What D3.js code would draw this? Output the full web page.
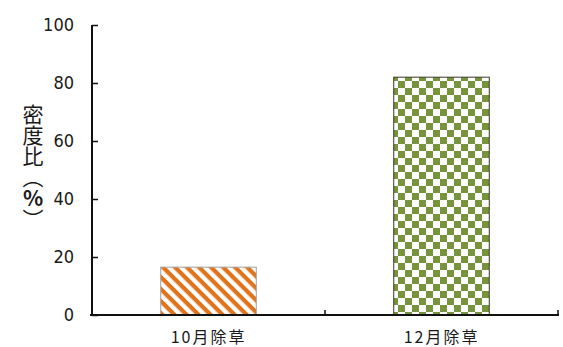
<!DOCTYPE html>
<html>
<head>
<meta charset="utf-8">
<script src="https://cdn.jsdelivr.net/npm/d3@7"></script>
<style>
  body { margin: 0; background: #fff; }
  text { fill: #1a1a1a; }
</style>
</head>
<body>
<div id="chart"></div>
<script>
// data
var categories = ["10月除草", "12月除草"];
var values = [16.5, 82];
var yTicks = [0, 20, 40, 60, 80, 100];
var yTitle = ["密度比（", "%", "）"];

var margin = {top: 25, right: 5, bottom: 32, left: 92},
    width = 563 - margin.left - margin.right,
    height = 347 - margin.top - margin.bottom;

var svg = d3.select("#chart").append("svg")
    .attr("width", 563).attr("height", 347);

// fill patterns
var defs = svg.append("defs");
var stripe = defs.append("pattern")
    .attr("id", "stripe")
    .attr("patternUnits", "userSpaceOnUse")
    .attr("width", 8.5).attr("height", 8.5)
    .attr("patternTransform", "rotate(45)");
stripe.append("rect").attr("width", 8.5).attr("height", 8.5).attr("fill", "#fff");
stripe.append("rect").attr("width", 8.5).attr("height", 4.2).attr("fill", "#e0741c");

var checker = defs.append("pattern")
    .attr("id", "checker")
    .attr("patternUnits", "userSpaceOnUse")
    .attr("x", 397).attr("y", 77)
    .attr("width", 14).attr("height", 14);
checker.append("rect").attr("width", 14).attr("height", 14).attr("fill", "#fff");
checker.append("rect").attr("width", 7).attr("height", 7).attr("fill", "#77933c");
checker.append("rect").attr("x", 7).attr("y", 7).attr("width", 7).attr("height", 7).attr("fill", "#77933c");

var g = svg.append("g")
    .attr("transform", "translate(" + margin.left + "," + margin.top + ")");

var x = d3.scaleBand().domain(categories).range([0, width]).paddingInner(0.59).paddingOuter(0.295);
var y = d3.scaleLinear().domain([0, 100]).range([height, 0]);

// bars
g.selectAll(".bar")
  .data(values)
  .enter().append("rect")
    .attr("class", "bar")
    .attr("x", function(d, i) { return x(categories[i]); })
    .attr("y", function(d) { return y(d); })
    .attr("width", x.bandwidth())
    .attr("height", function(d) { return height - y(d); })
    .attr("fill", function(d, i) { return i == 0 ? "url(#stripe)" : "url(#checker)"; })
    .attr("stroke", function(d, i) { return i == 0 ? "#a0a0a0" : "#3a3a2a"; })
    .attr("stroke-width", 1);

// y axis
var yAxis = g.append("g")
    .call(d3.axisLeft(y).tickValues(yTicks).tickSize(-6).tickPadding(18));
yAxis.select(".domain").attr("stroke", "#111").attr("stroke-width", 2)
    .attr("d", "M0," + height + "V0");
yAxis.selectAll(".tick line").attr("stroke", "#111").attr("stroke-width", 1.5);
yAxis.selectAll("text")
    .style("font-family", "'Liberation Sans Narrow', 'DejaVu Sans Condensed', sans-serif")
    .style("font-size", "18px").attr("fill", "#1a1a1a");

// x axis
var xAxis = g.append("g")
    .attr("transform", "translate(0," + height + ")")
    .call(d3.axisBottom(x).tickSize(0).tickPadding(17));
xAxis.select(".domain").attr("stroke", "#111").attr("stroke-width", 2)
    .attr("d", "M-2,0H" + (width + 1));
xAxis.selectAll("text")
    .style("font-family", "'Noto Sans CJK JP', sans-serif")
    .style("font-size", "16px")
    .style("letter-spacing", "2px")
    .attr("fill", "#1a1a1a");
// separators between categories
var seps = [x.step(), width];
g.selectAll(".sep")
  .data(seps)
  .enter().append("line")
    .attr("x1", function(d) { return d; }).attr("x2", function(d) { return d; })
    .attr("y1", height).attr("y2", height - 5)
    .attr("stroke", "#111").attr("stroke-width", 1.5);

// y title, vertical writing, % kept upright
var title = svg.append("text")
    .attr("x", 33).attr("y", 104)
    .style("writing-mode", "vertical-rl")
    .style("font-family", "'Noto Sans CJK JP', sans-serif")
    .style("font-size", "21px")
    .attr("fill", "#1a1a1a");
title.selectAll("tspan")
  .data(yTitle)
  .enter().append("tspan")
    .style("text-orientation", function(d) { return d == "%" ? "upright" : "mixed"; })
    .style("font-weight", function(d) { return d == "%" ? "bold" : "normal"; })
    .text(function(d) { return d; });
</script>
</body>
</html>
